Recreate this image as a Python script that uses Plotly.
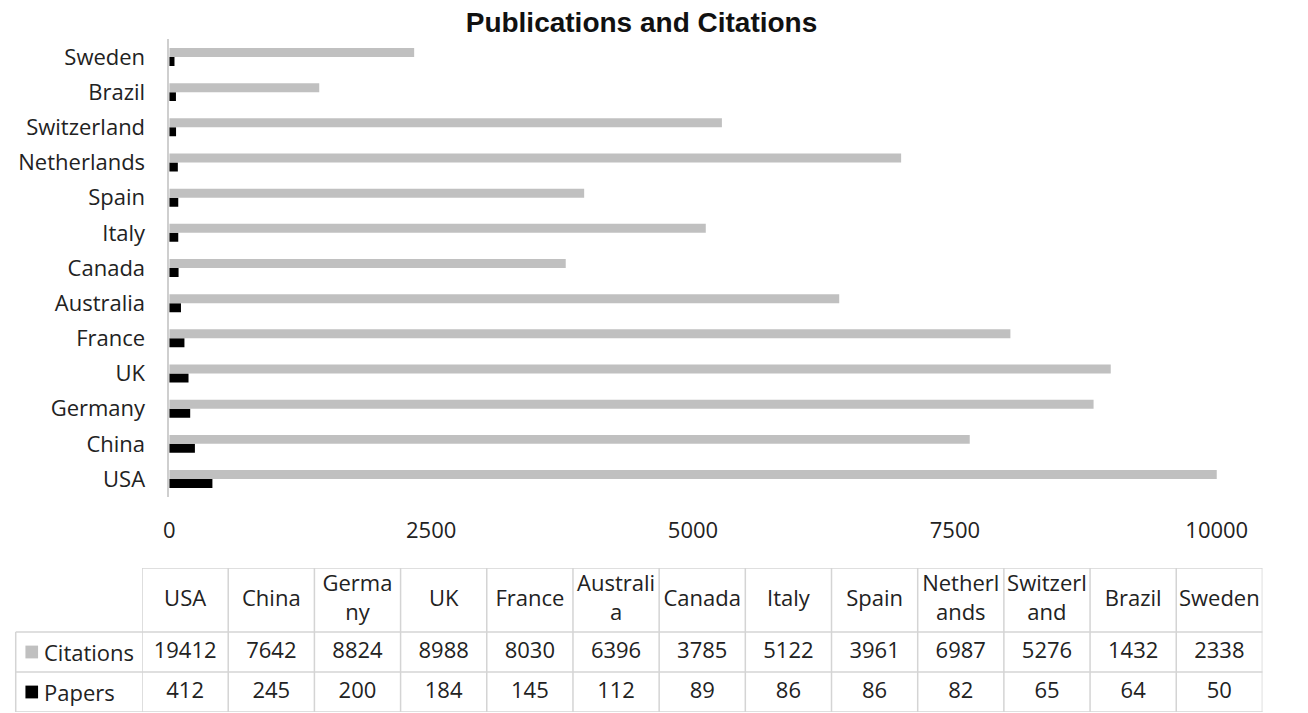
import plotly.graph_objects as go

# Canvas size in pixels, used to place layout elements
W, H = 1308, 713

# ---- data ----
countries = ["USA", "China", "Germany", "UK", "France", "Australia", "Canada",
             "Italy", "Spain", "Netherlands", "Switzerland", "Brazil", "Sweden"]
citations = [19412, 7642, 8824, 8988, 8030, 6396, 3785, 5122, 3961, 6987, 5276, 1432, 2338]
papers = [412, 245, 200, 184, 145, 112, 89, 86, 86, 82, 65, 64, 50]
table_headers = ["USA", "China", "Germa<br>ny", "UK", "France", "Australi<br>a", "Canada",
                 "Italy", "Spain", "Netherl<br>ands", "Switzerl<br>and", "Brazil", "Sweden"]
x_ticks = [0, 2500, 5000, 7500, 10000]
x_tick_labels = ["0", "2500", "5000", "7500", "10000"]
series_names = ["Citations", "Papers"]

# ---- styling ----
GREY = "#C0C0C0"
BLACK = "#000000"
TEXT = "#222222"
GRID = "#d4d4d4"
FONT = "Open Sans"
FS = 22


def fx(px):
    return px / W


def fy(py):
    return 1 - py / H


fig = go.Figure()

# bar chart (papers drawn first so it sits below citations in each group)
fig.add_trace(go.Bar(y=countries, x=papers, orientation="h", name="Papers",
                     marker=dict(color=BLACK, line=dict(width=0)),
                     xaxis="x", yaxis="y", showlegend=False))
fig.add_trace(go.Bar(y=countries, x=citations, orientation="h", name="Citations",
                     marker=dict(color=GREY, line=dict(width=0)),
                     xaxis="x", yaxis="y", showlegend=False))

# data table below the chart: rows in y2 units (papers 0-1, citations 1-2, header 2-3.6)
ROW_TOP = 3.6
for row_text, row_y in ((table_headers, 2.8),
                        ([str(v) for v in citations], 1.5),
                        ([str(v) for v in papers], 0.5)):
    fig.add_trace(go.Scatter(x=countries, y=[row_y] * len(countries), text=row_text,
                             mode="text", textposition="middle center",
                             textfont=dict(family=FONT, size=FS, color=TEXT),
                             xaxis="x2", yaxis="y2", hoverinfo="skip", showlegend=False))

shapes = []
line = dict(color=GRID, width=1.5)
# column borders
for i in range(len(countries) + 1):
    shapes.append(dict(type="line", xref="x2", yref="y2", x0=i - 0.5, x1=i - 0.5,
                       y0=0, y1=ROW_TOP, line=line))
# top border of header row
shapes.append(dict(type="line", xref="x2", yref="y2", x0=-0.5, x1=len(countries) - 0.5,
                   y0=ROW_TOP, y1=ROW_TOP, line=line))
# row borders including the series-name column
for yv in (0, 1, 2):
    shapes.append(dict(type="line", xref="paper", yref="y2", x0=fx(10), x1=fx(1293),
                       y0=yv, y1=yv, line=line))
shapes.append(dict(type="line", xref="paper", yref="y2", x0=fx(10), x1=fx(10),
                   y0=0, y1=2, line=line))

# legend keys inside the table
annotations = []
for name, colr, yc in ((series_names[0], GREY, 1.5), (series_names[1], BLACK, 0.5)):
    shapes.append(dict(type="rect", xref="paper", yref="y2", x0=fx(20), x1=fx(33),
                       y0=yc - 0.16, y1=yc + 0.16, fillcolor=colr, line=dict(width=0)))
    annotations.append(dict(text=name, xref="paper", yref="y2", x=fx(37), y=yc,
                            xanchor="left", yanchor="middle", showarrow=False,
                            font=dict(family=FONT, size=FS, color=TEXT)))

fig.update_layout(
    width=W, height=H, autosize=False,
    margin=dict(l=0, r=0, t=0, b=0, pad=0),
    paper_bgcolor="white", plot_bgcolor="white",
    barmode="group", bargap=0.49, bargroupgap=0,
    title=dict(text="<b>Publications and Citations</b>", x=0.5, xanchor="center",
               xref="paper", y=fy(22), yref="container", yanchor="middle",
               font=dict(family="Liberation Sans", size=28, color="#111111")),
    xaxis=dict(domain=[fx(168), fx(1246)], range=[0, 10000], tickvals=x_ticks,
               ticktext=x_tick_labels,
               showgrid=False, zeroline=False, showline=False, ticks="",
               ticklabelstandoff=18, anchor="y",
               tickfont=dict(family=FONT, size=FS, color=TEXT), fixedrange=True),
    yaxis=dict(domain=[fy(496.6), fy(39.4)], type="category", categoryorder="array",
               categoryarray=countries, showgrid=False, zeroline=False,
               showline=True, linecolor="#cfcfcf", linewidth=1.5, ticks="",
               ticklabelstandoff=18, anchor="x",
               tickfont=dict(family=FONT, size=FS, color=TEXT), fixedrange=True),
    xaxis2=dict(domain=[fx(140), fx(1293)], type="category", categoryorder="array",
                categoryarray=countries, range=[-0.5, len(countries) - 0.5],
                visible=False, anchor="y2", fixedrange=True),
    yaxis2=dict(domain=[fy(712), fy(568)], range=[0, ROW_TOP], visible=False,
                anchor="x2", fixedrange=True),
    shapes=shapes,
    annotations=annotations,
)

fig.write_html("out.html", config={"displayModeBar": False})
